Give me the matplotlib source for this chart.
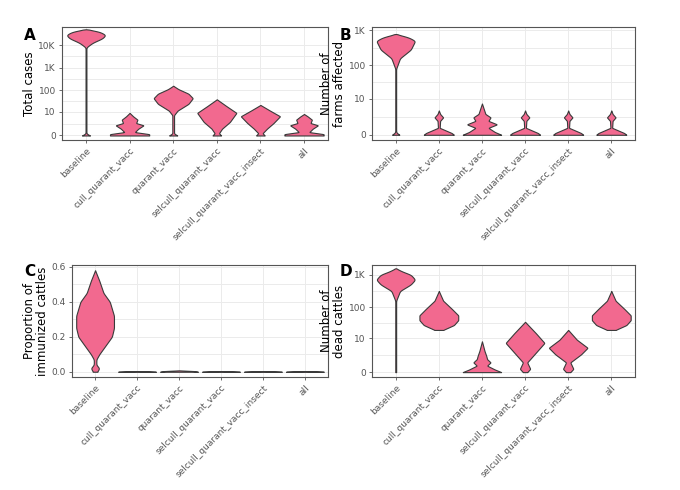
import numpy as np
import matplotlib.pyplot as plt

groups = ['baseline', 'cull_quarant_vacc', 'quarant_vacc',
          'selcull_quarant_vacc', 'selcull_quarant_vacc_insect', 'all']

# violin outlines: levels (in plotted y units) and relative half widths
# A: total cases, y = log10(cases + 1)
a_levels = [
    [0, 0.05, 0.1, 0.5, 3.9, 4.1, 4.3, 4.45, 4.6, 4.7],
    [0, 0.06, 0.15, 0.3, 0.45, 0.55, 0.7, 0.85, 1.0],
    [0, 0.05, 0.1, 0.9, 1.1, 1.4, 1.65, 1.85, 2.05, 2.2],
    [0, 0.1, 0.3, 0.6, 1.0, 1.3, 1.6],
    [0, 0.1, 0.3, 0.55, 0.85, 1.1, 1.35],
    [0, 0.06, 0.15, 0.3, 0.45, 0.55, 0.7, 0.85, 0.95],
]
a_widths = [
    [0.12, 0.02, 0.01, 0.01, 0.01, 0.15, 0.38, 0.45, 0.3, 0],
    [0.45, 0.45, 0.12, 0.2, 0.32, 0.15, 0.18, 0.08, 0],
    [0.1, 0.05, 0.02, 0.02, 0.1, 0.35, 0.45, 0.35, 0.12, 0],
    [0.1, 0.05, 0.12, 0.3, 0.45, 0.22, 0],
    [0.1, 0.05, 0.15, 0.3, 0.45, 0.22, 0],
    [0.45, 0.45, 0.12, 0.2, 0.32, 0.15, 0.18, 0.08, 0],
]
# B: farms affected, y = log10(farms + 1)
b_levels = [
    [0, 0.05, 0.1, 1.9, 2.2, 2.45, 2.7, 2.8, 2.9],
    [0, 0.05, 0.2, 0.4, 0.5, 0.6, 0.7],
    [0, 0.08, 0.2, 0.3, 0.4, 0.5, 0.6, 0.75, 0.9],
    [0, 0.05, 0.2, 0.4, 0.5, 0.6, 0.7],
    [0, 0.05, 0.2, 0.4, 0.5, 0.6, 0.7],
    [0, 0.05, 0.2, 0.4, 0.5, 0.6, 0.7],
]
b_widths = [
    [0.1, 0.02, 0.01, 0.01, 0.1, 0.35, 0.45, 0.3, 0],
    [0.35, 0.3, 0.02, 0.03, 0.1, 0.03, 0],
    [0.45, 0.3, 0.15, 0.35, 0.15, 0.2, 0.08, 0.04, 0],
    [0.35, 0.3, 0.02, 0.03, 0.1, 0.03, 0],
    [0.35, 0.3, 0.02, 0.03, 0.1, 0.03, 0],
    [0.35, 0.3, 0.02, 0.03, 0.1, 0.03, 0],
]
# C: proportion of immunized cattles (linear)
c_levels = [
    [0, 0.02, 0.04, 0.07, 0.1, 0.15, 0.2, 0.25, 0.32, 0.4, 0.45, 0.52, 0.58],
    [0, 0.002, 0.004],
    [0, 0.004, 0.008],
    [0, 0.002, 0.004],
    [0, 0.002, 0.004],
    [0, 0.002, 0.004],
]
c_widths = [
    [0.05, 0.1, 0.03, 0.03, 0.1, 0.25, 0.4, 0.45, 0.45, 0.35, 0.2, 0.1, 0],
    [0.45, 0.3, 0],
    [0.45, 0.35, 0],
    [0.45, 0.3, 0],
    [0.45, 0.3, 0],
    [0.45, 0.3, 0],
]
# D: dead cattles, y = log10(dead + 1)
d_levels = [
    [0, 0.05, 2.2, 2.5, 2.7, 2.85, 3.0, 3.1, 3.2],
    [1.3, 1.45, 1.6, 1.75, 1.95, 2.2, 2.5],
    [0, 0.08, 0.2, 0.3, 0.4, 0.5, 0.65, 0.8, 0.95],
    [0, 0.1, 0.3, 0.6, 0.9, 1.2, 1.55],
    [0, 0.1, 0.3, 0.55, 0.75, 1.0, 1.3],
    [1.3, 1.45, 1.6, 1.75, 1.95, 2.2, 2.5],
]
d_widths = [
    [0.01, 0.01, 0.01, 0.1, 0.35, 0.45, 0.35, 0.15, 0],
    [0.1, 0.35, 0.45, 0.45, 0.3, 0.1, 0],
    [0.45, 0.3, 0.12, 0.2, 0.12, 0.1, 0.06, 0.03, 0],
    [0.05, 0.12, 0.05, 0.25, 0.45, 0.25, 0],
    [0.05, 0.12, 0.05, 0.3, 0.45, 0.2, 0],
    [0.1, 0.35, 0.45, 0.45, 0.3, 0.1, 0],
]

fill = '#F2698F'
edge = '#3a3a3a'
grid_c = '#ebebeb'

fig = plt.figure(figsize=(6.8, 4.9), dpi=100)
W, H = 680, 490
def ax_px(x0, y0, x1, y1):
    return fig.add_axes([x0 / W, 1 - y1 / H, (x1 - x0) / W, (y1 - y0) / H])

def smooth_outline(lv, wd):
    # round off the corners of the hand-read outline for drawing only
    lv = np.array(lv, float)
    wd = np.array(wd, float)
    yy = np.linspace(lv[0], lv[-1], 300)
    ww = np.interp(yy, lv, wd)
    k = np.hanning(15)
    k /= k.sum()
    pad = np.concatenate([np.full(7, ww[0]), ww, np.full(7, ww[-1])])
    ws = np.convolve(pad, k, mode='valid')
    ws[-1] = 0
    return yy, ws

def draw_panel(ax, levels, widths, ylim, yticks, yticklabels, ylabel, minor):
    for i, (lv, wd) in enumerate(zip(levels, widths)):
        yy, ws = smooth_outline(lv, wd)
        ax.fill_betweenx(yy, i - ws, i + ws, facecolor=fill, edgecolor=edge, lw=0.8, zorder=3)
    ax.set_xlim(-0.55, len(groups) - 0.45)
    ax.set_ylim(*ylim)
    ax.set_xticks(range(len(groups)))
    ax.set_xticklabels(groups, rotation=45, ha='right', rotation_mode='anchor',
                       fontsize=6.5, color='#555555')
    ax.set_yticks(yticks)
    ax.set_yticklabels(yticklabels, fontsize=6.5, color='#555555')
    ax.set_yticks(minor, minor=True)
    ax.grid(True, which='both', color=grid_c, lw=0.7, zorder=0)
    ax.set_axisbelow(True)
    ax.tick_params(length=2.5, width=0.6, color='#555555', which='major', pad=2)
    ax.tick_params(which='minor', length=0)
    for s in ax.spines.values():
        s.set_color('#555555')
        s.set_linewidth(0.8)
    ax.set_ylabel(ylabel, fontsize=8.5, labelpad=2, linespacing=0.95)

logt = [np.log10(v + 1) for v in [0, 10, 100, 1000, 10000]]
logmid = [(logt[i] + logt[i + 1]) / 2 for i in range(4)]

axA = ax_px(62, 27, 328, 140)
draw_panel(axA, a_levels, a_widths, (-0.2, 4.8), logt, ['0', '10', '100', '1K', '10K'],
           'Total cases', logmid)
axB = ax_px(372, 27, 635, 140)
draw_panel(axB, b_levels, b_widths, (-0.15, 3.1), logt[:4], ['0', '10', '100', '1K'],
           'Number of\nfarms affected', logmid[:3])
axC = ax_px(72, 265, 328, 377)
draw_panel(axC, c_levels, c_widths, (-0.03, 0.61), [0, 0.2, 0.4, 0.6],
           ['0.0', '0.2', '0.4', '0.6'], 'Proportion of\nimmunized cattles',
           [0.1, 0.3, 0.5])
axD = ax_px(372, 265, 635, 377)
draw_panel(axD, d_levels, d_widths, (-0.15, 3.3), logt[:4], ['0', '10', '100', '1K'],
           'Number of\ndead cattles', logmid[:3])

for letter, x, y in [('A', 24, 28), ('B', 340, 28), ('C', 24, 264), ('D', 340, 264)]:
    fig.text(x / W, 1 - y / H, letter, fontsize=11, fontweight='bold', va='top', ha='left')

fig.savefig('out.png', dpi=100)
